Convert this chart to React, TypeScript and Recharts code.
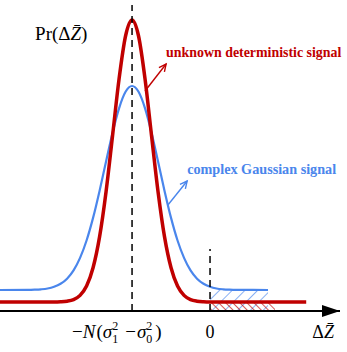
import React from "react";
import {
  LineChart,
  Line,
  XAxis,
  YAxis,
  ReferenceLine,
  ReferenceDot,
  ReferenceArea,
} from "recharts";

// x in units where 0 is the threshold and -3 is -N(s1^2 - s0^2)
const redX = [-8.08, -6, -5.75, -5.5, -5.25, -5, -4.75, -4.5, -4.25, -4, -3.75, -3.5, -3.25, -3, -2.75, -2.5, -2.25, -2, -1.75, -1.5, -1.25, -1, -0.75, -0.5, -0.25, 0, 3.7];
const redY = [0.9, 0.9, 0.92, 0.98, 1.14, 1.56, 2.49, 4.32, 7.41, 11.93, 17.53, 23.2, 27.5, 29.1, 27.5, 23.2, 17.53, 11.93, 7.41, 4.32, 2.49, 1.56, 1.14, 0.98, 0.92, 0.9, 0.9];

const blueX = [-8.08, -7, -6.75, -6.5, -6.25, -6, -5.75, -5.5, -5.25, -5, -4.75, -4.5, -4.25, -4, -3.75, -3.5, -3.25, -3, -2.75, -2.5, -2.25, -2, -1.75, -1.5, -1.25, -1, -0.75, -0.5, -0.25, 0, 0.25, 0.5, 0.75, 1, 2.23];
const blueY = [2.1, 2.11, 2.13, 2.17, 2.25, 2.42, 2.72, 3.23, 4.06, 5.31, 7.05, 9.31, 12.01, 14.95, 17.83, 20.27, 21.92, 22.5, 21.92, 20.27, 17.83, 14.95, 12.01, 9.31, 7.05, 5.31, 4.06, 3.23, 2.72, 2.42, 2.25, 2.17, 2.13, 2.11, 2.1];

const tickValues = [-3, 0, 4.35];

const redData = redX.map((x, i) => ({ x, y: redY[i] }));
const blueData = blueX.map((x, i) => ({ x, y: blueY[i] }));

const RED = "#C00000";
const BLUE = "#4A86EC";
const SERIF = "'Liberation Serif', 'Times New Roman', serif";

function Arrow({ x1, y1, x2, y2, color }: any) {
  const a = Math.atan2(y2 - y1, x2 - x1);
  const L = 8;
  const s = 0.45;
  return (
    <g stroke={color} strokeWidth={1.4} fill="none">
      <line x1={x1} y1={y1} x2={x2} y2={y2} />
      <polyline
        points={`${x2 - L * Math.cos(a - s)},${y2 - L * Math.sin(a - s)} ${x2},${y2} ${x2 - L * Math.cos(a + s)},${y2 - L * Math.sin(a + s)}`}
      />
    </g>
  );
}

function Tick({ x, y, index }: any) {
  const by = y + 27;
  if (index === 0) {
    return (
      <text x={x - 60} y={by} fontFamily={SERIF} fontSize={19} fill="#000">
        <tspan>−</tspan>
        <tspan fontStyle="italic">N</tspan>
        <tspan dx={1}>(</tspan>
        <tspan fontStyle="italic">σ</tspan>
        <tspan fontSize={12} dy={-8}>2</tspan>
        <tspan fontSize={12} dx={-6} dy={13}>1</tspan>
        <tspan dx={7} dy={-5}>−</tspan>
        <tspan fontStyle="italic" dx={1}>σ</tspan>
        <tspan fontSize={12} dy={-8}>2</tspan>
        <tspan fontSize={12} dx={-6} dy={13}>0</tspan>
        <tspan dx={3} dy={-5}>)</tspan>
      </text>
    );
  }
  if (index === 1) {
    return (
      <text x={x} y={by} textAnchor="middle" fontFamily={SERIF} fontSize={18} fill="#000">
        0
      </text>
    );
  }
  return (
    <text x={x} y={by} textAnchor="middle" fontFamily={SERIF} fontSize={18} fill="#000">
      <tspan>Δ</tspan>
      <tspan fontStyle="italic">Z̄</tspan>
    </text>
  );
}

export default function App() {
  return (
    <div style={{ position: "absolute", left: 0, top: 0, background: "#fff" }}>
      <LineChart width={347} height={352} margin={{ top: 5, right: 7, bottom: 11, left: 0 }}>
        <defs>
          <pattern id="blueHatch" patternUnits="userSpaceOnUse" width={9} height={9} patternTransform="rotate(45)">
            <line x1={0} y1={0} x2={0} y2={9} stroke={BLUE} strokeWidth={1.3} />
          </pattern>
          <pattern id="redHatch" patternUnits="userSpaceOnUse" width={5} height={5} patternTransform="rotate(-45)">
            <line x1={0} y1={0} x2={0} y2={5} stroke={RED} strokeWidth={1.3} />
          </pattern>
        </defs>
        <XAxis
          type="number"
          dataKey="x"
          domain={[-8.08, 5]}
          allowDataOverflow
          ticks={tickValues}
          interval={0}
          height={30}
          tickLine={false}
          tickSize={0}
          tickMargin={0}
          axisLine={{ stroke: "#000", strokeWidth: 2 }}
          tick={<Tick />}
        />
        <YAxis type="number" domain={[0, 30.6]} hide allowDataOverflow />
        <ReferenceArea x1={0} x2={2.23} y1={0} y2={2.1} fill="url(#blueHatch)" fillOpacity={1} stroke="none" />
        <ReferenceArea x1={0} x2={2.5} y1={0} y2={0.9} fill="url(#redHatch)" fillOpacity={1} stroke="none" />
        <Line data={blueData} dataKey="y" type="monotone" stroke={BLUE} strokeWidth={2.2} dot={false} isAnimationActive={false} />
        <Line data={redData} dataKey="y" type="monotone" stroke={RED} strokeWidth={3.5} dot={false} isAnimationActive={false} />
        <ReferenceLine x={-3} stroke="#000" strokeWidth={1.5} strokeDasharray="7 5" />
        <ReferenceLine segment={[{ x: 0, y: 0 }, { x: 0, y: 6.2 }]} stroke="#000" strokeWidth={1.5} strokeDasharray="7 5" />
        <ReferenceLine
          segment={[{ x: -2.5, y: 22.0 }, { x: -1.69, y: 24.7 }]}
          shape={(p: any) => <Arrow {...p} color={RED} />}
        />
        <ReferenceLine
          segment={[{ x: -1.62, y: 10.6 }, { x: -0.88, y: 13.0 }]}
          shape={(p: any) => <Arrow {...p} color={BLUE} />}
        />
        <ReferenceDot
          x={5}
          y={0}
          ifOverflow="visible"
          shape={(p: any) => <polygon points={`${p.cx},${p.cy} ${p.cx - 18},${p.cy - 6} ${p.cx - 18},${p.cy + 6}`} fill="#000" />}
        />
        <ReferenceDot
          x={-1.69}
          y={25.4}
          shape={(p: any) => (
            <text x={p.cx} y={p.cy} fontFamily={SERIF} fontWeight="bold" fontSize={13.9} fill={RED}>
              unknown deterministic signal
            </text>
          )}
        />
        <ReferenceDot
          x={-0.88}
          y={13.7}
          shape={(p: any) => (
            <text x={p.cx} y={p.cy} fontFamily={SERIF} fontWeight="bold" fontSize={14.2} fill={BLUE}>
              complex Gaussian signal
            </text>
          )}
        />
        <ReferenceDot
          x={-6.73}
          y={27.1}
          shape={(p: any) => (
            <text x={p.cx} y={p.cy} fontFamily={SERIF} fontSize={19} fill="#000">
              <tspan>Pr(Δ</tspan>
              <tspan fontStyle="italic">Z̄</tspan>
              <tspan>)</tspan>
            </text>
          )}
        />
      </LineChart>
    </div>
  );
}
